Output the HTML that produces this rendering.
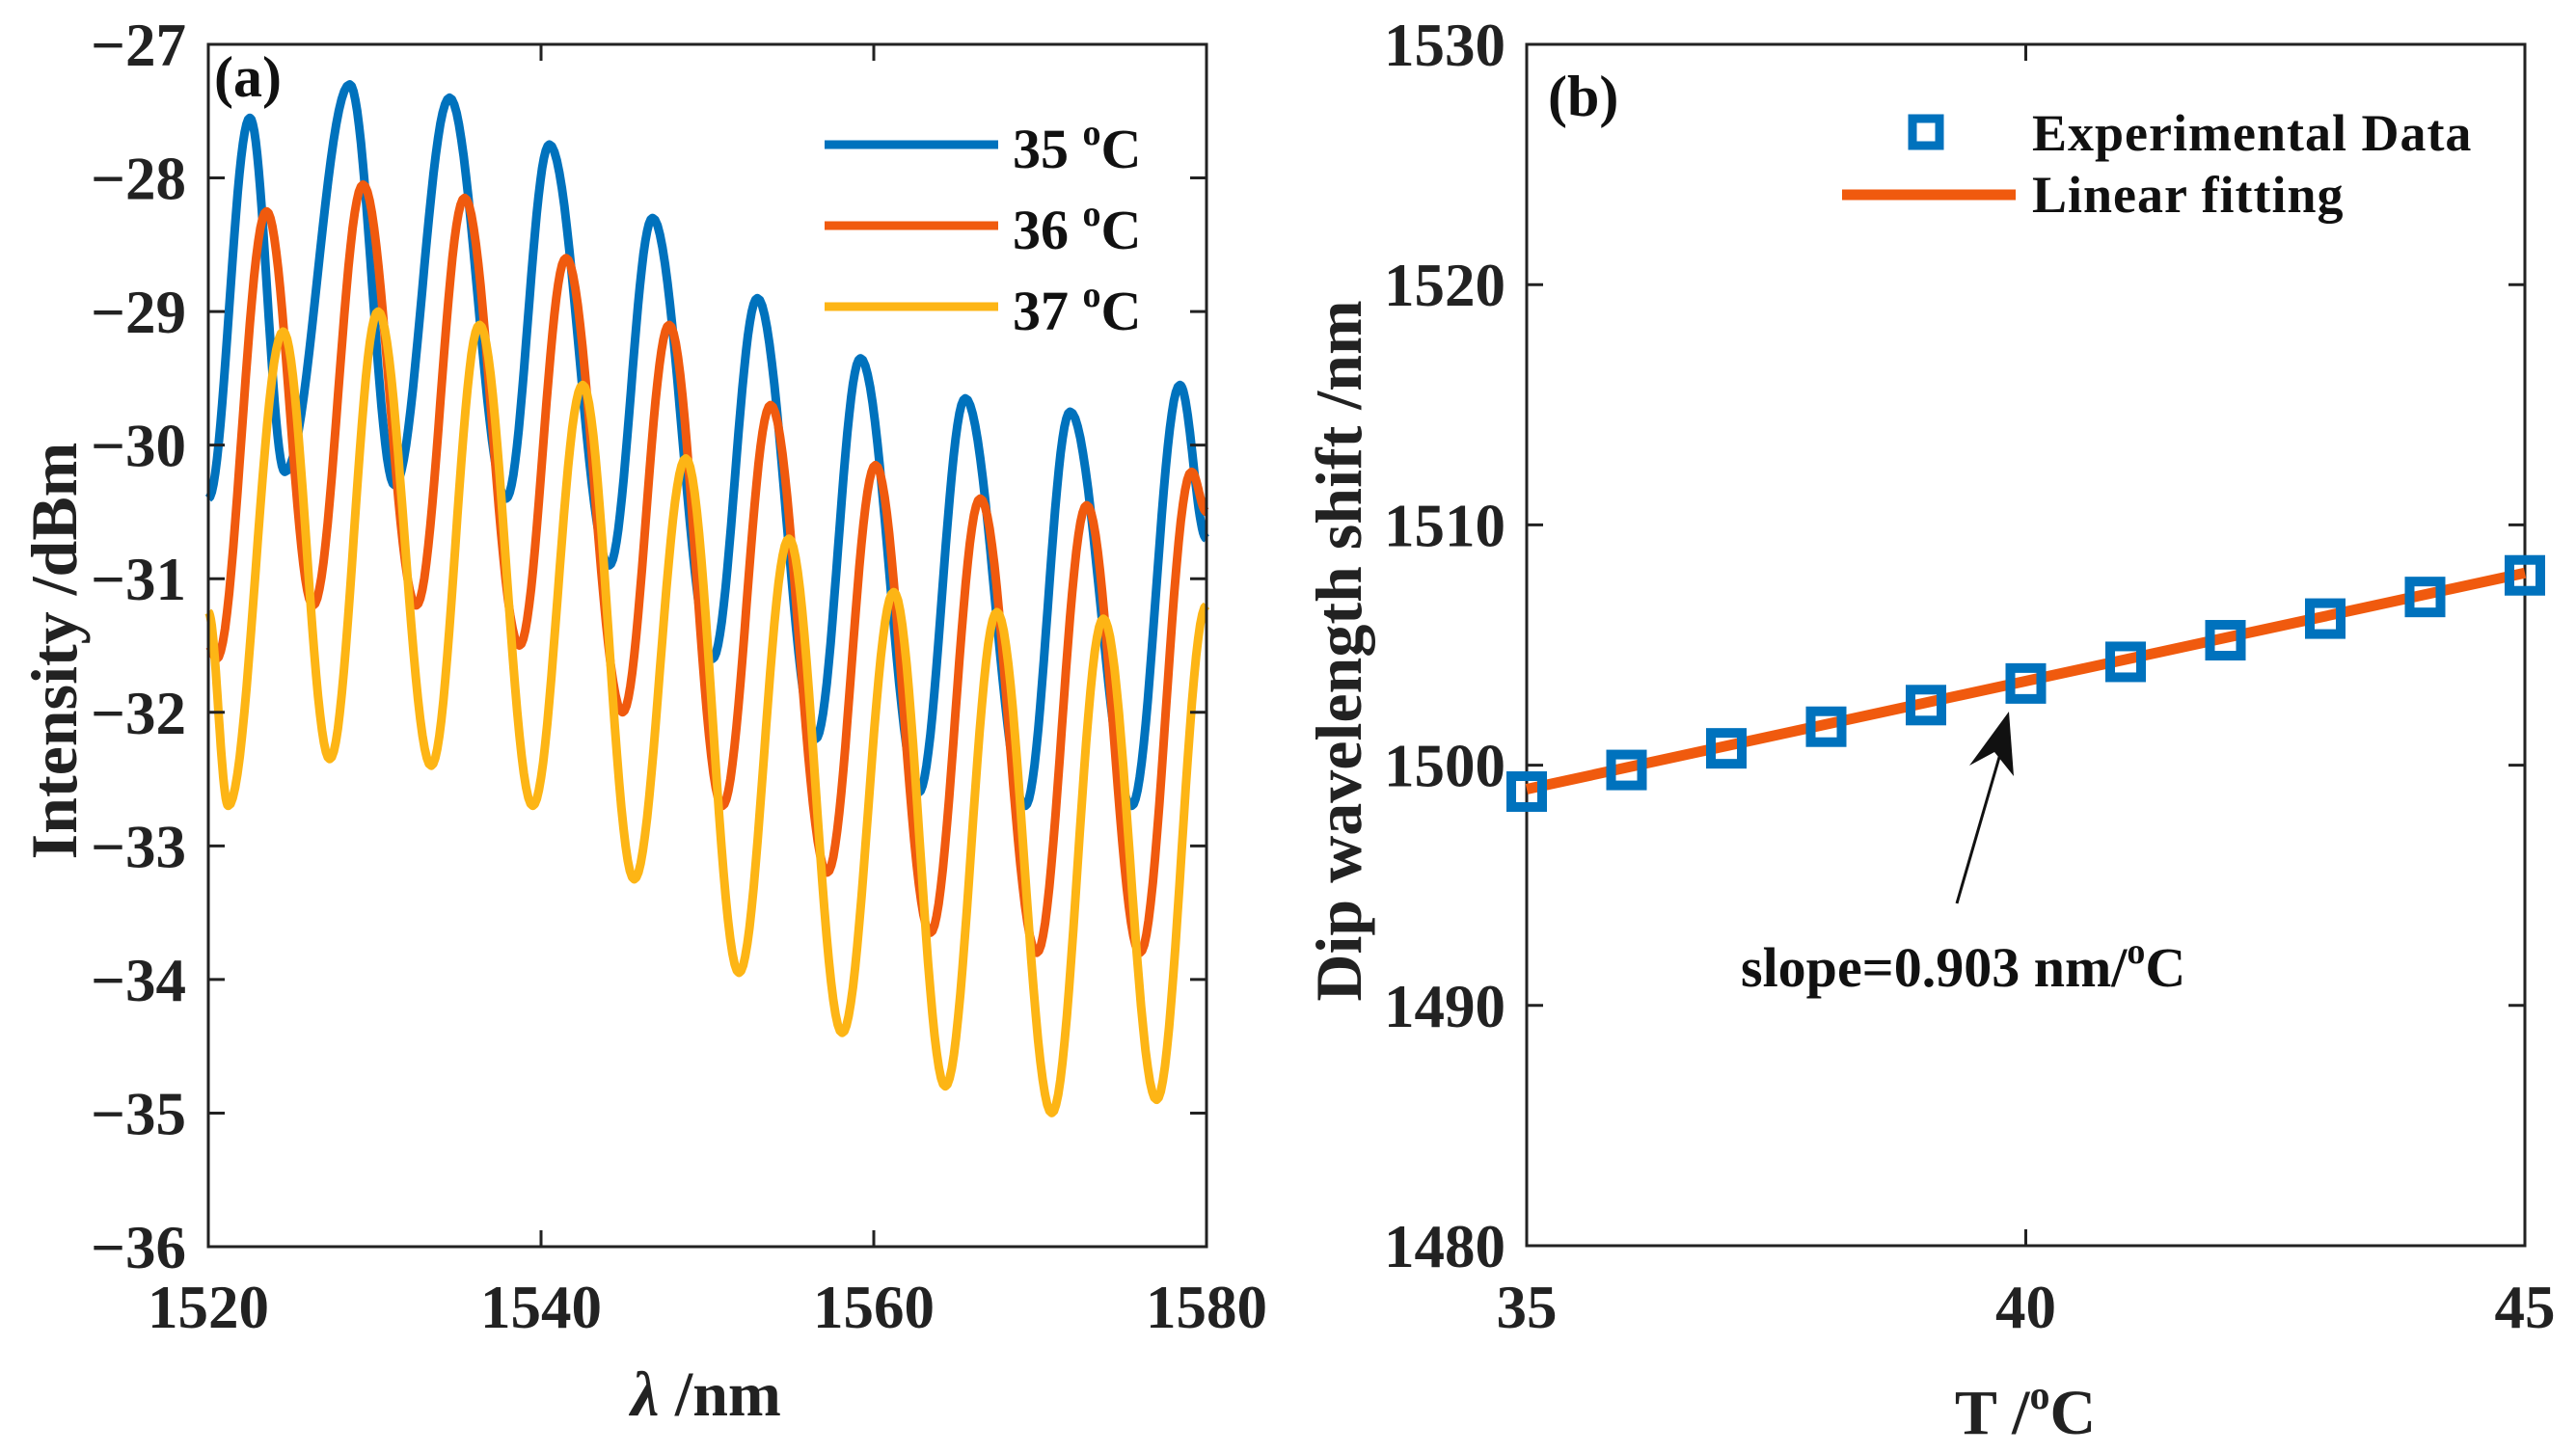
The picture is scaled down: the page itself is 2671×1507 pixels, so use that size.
<!DOCTYPE html>
<html><head><meta charset="utf-8">
<style>
html,body{margin:0;padding:0;background:#fff;}
svg{display:block;font-family:"Liberation Serif",serif;font-weight:bold;}
</style></head>
<body>
<svg id="fig" width="2671" height="1507" viewBox="0 0 2671 1507" xmlns="http://www.w3.org/2000/svg">
<g id="pa"></g>
<g id="pb"></g>
</svg>
<script>
// ---------- Panel (a) data: extrema (wavelength, dBm) of each spectrum ----------
const wl35 = [1520,1522.5,1524.6,1528.5,1531.2,1534.5,1537.9,1540.5,1544.1,1546.7,1550.3,1553.0,1556.5,1559.2,1562.7,1565.5,1569.1,1571.8,1575.5,1578.4,1580];
const db35 = [-30.4,-27.55,-30.2,-27.3,-30.3,-27.4,-30.4,-27.75,-30.9,-28.3,-31.6,-28.9,-32.2,-29.35,-32.6,-29.65,-32.7,-29.75,-32.7,-29.55,-30.7];
const wl36 = [1520,1520.5,1523.5,1526.3,1529.3,1532.5,1535.4,1538.7,1541.5,1544.9,1547.7,1550.9,1553.8,1557.2,1560.1,1563.4,1566.4,1569.8,1572.8,1576.0,1579.1,1580];
const db36 = [-31.5,-31.6,-28.25,-31.2,-28.05,-31.2,-28.15,-31.5,-28.6,-32.0,-29.1,-32.7,-29.7,-33.2,-30.15,-33.65,-30.4,-33.8,-30.45,-33.8,-30.2,-30.5];
const wl37 = [1520,1521.2,1524.5,1527.3,1530.2,1533.4,1536.3,1539.5,1542.5,1545.6,1548.7,1551.9,1554.9,1558.1,1561.2,1564.3,1567.4,1570.7,1573.8,1577.0,1580];
const db37 = [-31.25,-32.7,-29.15,-32.35,-29.0,-32.4,-29.1,-32.7,-29.55,-33.25,-30.1,-33.95,-30.7,-34.4,-31.1,-34.8,-31.25,-35.0,-31.3,-34.9,-31.2];
const legendA = ["35","36","37"];
const xTicksA = [1520,1540,1560,1580];
const yTicksA = [-27,-28,-29,-30,-31,-32,-33,-34,-35,-36];
// ---------- Panel (b) data ----------
const tempB = [35,36,37,38,39,40,41,42,43,44,45];
const dipB = [1498.9,1499.8,1500.7,1501.6,1502.5,1503.4,1504.3,1505.2,1506.1,1507.0,1507.9];
const fitT = [35,45];
const fitV = [1499.0,1508.0];
const xTicksB = [35,40,45];
const yTicksB = [1480,1490,1500,1510,1520,1530];

const NS="http://www.w3.org/2000/svg";
function mk(tag,attrs,parent){const e=document.createElementNS(NS,tag);for(const k in attrs)e.setAttribute(k,attrs[k]);parent.appendChild(e);return e;}

// ---------- Panel A ----------
const A={l:216,r:1251,t:46,b:1293,x0:1520,x1:1580,y0:-36,y1:-27};
const ax=v=>A.l+(v-A.x0)/(A.x1-A.x0)*(A.r-A.l);
const ay=v=>A.b-(v-A.y0)/(A.y1-A.y0)*(A.b-A.t);
const pa=document.getElementById('pa');

function curvePath(wl,db){
  let d=`M${ax(wl[0]).toFixed(1)},${ay(db[0]).toFixed(1)}`;
  for(let i=0;i<wl.length-1;i++){
    const n=24;
    for(let k=1;k<=n;k++){
      const f=k/n, s=(1-Math.cos(Math.PI*f))/2;
      const w=wl[i]+(wl[i+1]-wl[i])*f, v=db[i]+(db[i+1]-db[i])*s;
      d+=`L${ax(w).toFixed(1)},${ay(v).toFixed(1)}`;
    }
  }
  return d;
}
const colors=["#0072BD","#F05A0E","#FDB515"];
const series=[[wl35,db35],[wl36,db36],[wl37,db37]];
const cg=mk('g',{},pa);


series.forEach((s,i)=>{
  const p=mk('path',{d:curvePath(s[0],s[1]),fill:'none',stroke:colors[i],'stroke-width':9,'stroke-linejoin':'round'},cg);
  
  
});
const boxA=mk('rect',{x:A.l,y:A.t,width:A.r-A.l,height:A.b-A.t,fill:'none',stroke:'#222','stroke-width':3},pa);


xTicksA.forEach(v=>{
  const x=ax(v);
  mk('line',{x1:x,y1:A.b,x2:x,y2:A.b-17,stroke:'#222','stroke-width':3},pa);
  mk('line',{x1:x,y1:A.t,x2:x,y2:A.t+17,stroke:'#222','stroke-width':3},pa);
  const t=mk('text',{x:x,y:1377,'font-size':63,'text-anchor':'middle',fill:'#222'},pa);
  t.textContent=v;
  
  
});
yTicksA.forEach(v=>{
  const y=ay(v);
  mk('line',{x1:A.l,y1:y,x2:A.l+17,y2:y,stroke:'#222','stroke-width':3},pa);
  mk('line',{x1:A.r,y1:y,x2:A.r-17,y2:y,stroke:'#222','stroke-width':3},pa);
  const t=mk('text',{x:193,y:y+22,'font-size':63,'text-anchor':'end',fill:'#222'},pa);
  t.textContent=String(v).replace('-','\u2212');
  
  
});
const la=mk('text',{x:222,y:100,'font-size':60,fill:'#111'},pa);la.textContent='(a)';


legendA.forEach((n,i)=>{
  const y=150+i*84;
  const l=mk('line',{x1:855,y1:y,x2:1035,y2:y,stroke:colors[i],'stroke-width':9},pa);
  
  
  const t=mk('text',{x:1050,y:y+24,'font-size':58,fill:'#111'},pa);
  t.innerHTML=n+' <tspan dy="-24" font-size="38">o</tspan><tspan dy="24">C</tspan>';
  
  
});
const xla=mk('text',{x:732,y:1468,'font-size':66,'text-anchor':'middle',fill:'#222'},pa);
xla.innerHTML='<tspan font-style="italic">λ</tspan> /nm';


const yla=mk('text',{x:0,y:0,'font-size':68,'text-anchor':'middle',fill:'#222',transform:'translate(79,675) rotate(-90)'},pa);
yla.textContent='Intensity /dBm';



// ---------- Panel B ----------
const B={l:1583,r:2618,t:46,b:1292,x0:35,x1:45,y0:1480,y1:1530};
const bx=v=>B.l+(v-B.x0)/(B.x1-B.x0)*(B.r-B.l);
const by=v=>B.b-(v-B.y0)/(B.y1-B.y0)*(B.b-B.t);
const pb=document.getElementById('pb');
const boxB=mk('rect',{x:B.l,y:B.t,width:B.r-B.l,height:B.b-B.t,fill:'none',stroke:'#222','stroke-width':3},pb);


xTicksB.forEach(v=>{
  const x=bx(v);
  mk('line',{x1:x,y1:B.b,x2:x,y2:B.b-17,stroke:'#222','stroke-width':3},pb);
  mk('line',{x1:x,y1:B.t,x2:x,y2:B.t+17,stroke:'#222','stroke-width':3},pb);
  const t=mk('text',{x:x,y:1377,'font-size':63,'text-anchor':'middle',fill:'#222'},pb);
  t.textContent=v;
  
  
});
yTicksB.forEach(v=>{
  const y=by(v);
  mk('line',{x1:B.l,y1:y,x2:B.l+17,y2:y,stroke:'#222','stroke-width':3},pb);
  mk('line',{x1:B.r,y1:y,x2:B.r-17,y2:y,stroke:'#222','stroke-width':3},pb);
  const t=mk('text',{x:1561,y:y+22,'font-size':63,'text-anchor':'end',fill:'#222'},pb);
  t.textContent=v;
  
  
});
const fit=mk('line',{x1:bx(fitT[0]),y1:by(fitV[0]),x2:bx(fitT[1]),y2:by(fitV[1]),stroke:'#F05A0E','stroke-width':11},pb);


tempB.forEach((t,i)=>{
  const r=mk('rect',{x:bx(t)-16,y:by(dipB[i])-16,width:32,height:32,fill:'none',stroke:'#0072BD','stroke-width':10},pb);
  
  
});
const lb=mk('text',{x:1605,y:120,'font-size':60,fill:'#111'},pb);lb.textContent='(b)';


const lm=mk('rect',{x:1983,y:123,width:28,height:28,fill:'none',stroke:'#0072BD','stroke-width':9},pb);


const lt1=mk('text',{x:2107,y:156,'font-size':54,fill:'#111','letter-spacing':'1'},pb);lt1.textContent='Experimental Data';


const ll=mk('line',{x1:1910,y1:202,x2:2090,y2:202,stroke:'#F05A0E','stroke-width':11},pb);


const lt2=mk('text',{x:2107,y:220,'font-size':54,fill:'#111','letter-spacing':'1'},pb);lt2.textContent='Linear fitting';


const arr=mk('line',{x1:2029,y1:937,x2:2076,y2:775,stroke:'#111','stroke-width':3},pb);


const head=mk('polygon',{points:'2083,738 2042,794 2068,780 2088,805',fill:'#111'},pb);


const sl=mk('text',{x:1805,y:1023,'font-size':58,fill:'#111'},pb);
sl.innerHTML='slope=0.903 nm/<tspan dy="-24" font-size="38">o</tspan><tspan dy="24">C</tspan>';


const xlb=mk('text',{x:2100,y:1487,'font-size':66,'text-anchor':'middle',fill:'#222'},pb);
xlb.innerHTML='T /<tspan dy="-26" font-size="42">o</tspan><tspan dy="26">C</tspan>';


const ylb=mk('text',{x:0,y:0,'font-size':68,'text-anchor':'middle',fill:'#222',transform:'translate(1411,675) rotate(-90)'},pb);
ylb.textContent='Dip wavelength shift /nm';


</script>
</body></html>
